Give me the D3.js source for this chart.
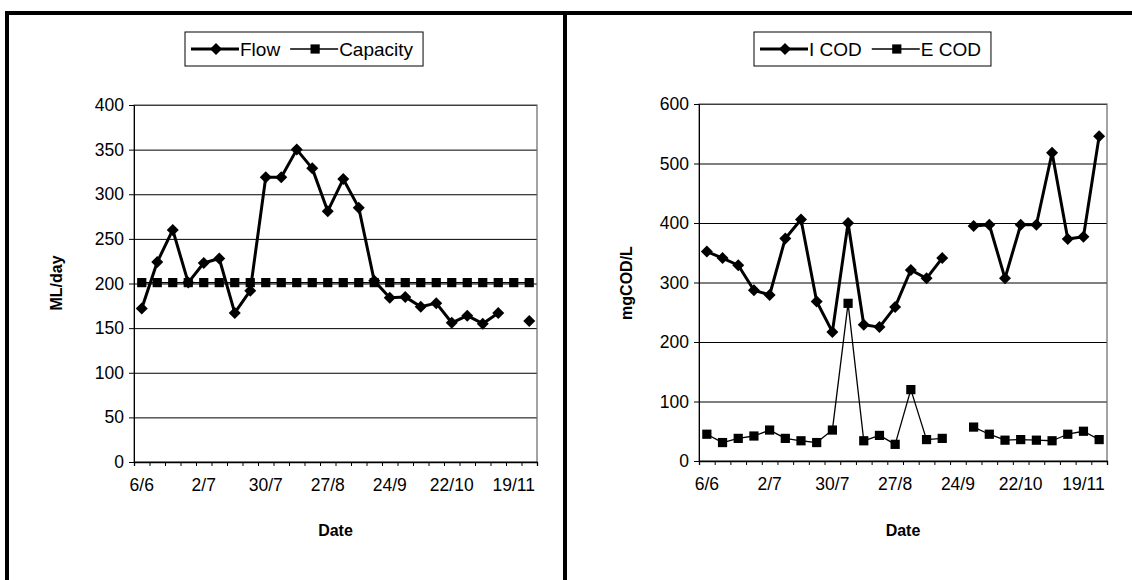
<!DOCTYPE html>
<html>
<head>
<meta charset="utf-8">
<script src="https://cdn.jsdelivr.net/npm/d3@7"></script>
<style>
  body { margin: 0; background: #fff; }
  svg { display: block; font-family: "Liberation Sans", Arial, sans-serif; }
  .tick text { font-family: "Liberation Sans", Arial, sans-serif; font-size: 17.5px; fill: #000; }
  .axis-title { font-size: 16px; font-weight: bold; }
  .legend text { font-size: 19px; }
</style>
</head>
<body>
<div id="chart"></div>
<script>
// weekly sampling dates (category axis, every 4th one labelled)
const dates = ['6/6','13/6','20/6','26/6','2/7','9/7','16/7','23/7','30/7','6/8','13/8','20/8',
  '27/8','3/9','10/9','17/9','24/9','1/10','8/10','15/10','22/10','29/10','5/11','12/11','19/11','26/11'];

// left panel: plant flow vs capacity (ML/day)
const flow = [172,224,260,201,223,228,167,192,319,319,350,329,281,317,285,203,
  184,185,174,178,156,164,155,167,null,158];
const capacity = [201,201,201,201,201,201,201,201,201,201,201,201,201,201,201,201,
  201,201,201,201,201,201,201,201,201,201];
const flowTicks = [0,50,100,150,200,250,300,350,400];

// right panel: influent / effluent COD (mgCOD/L)
const iCod = [352,341,329,287,279,374,406,268,217,400,229,225,259,321,307,341,
  null,395,397,307,397,397,518,373,377,546];
const eCod = [45,31,38,42,52,38,34,31,52,265,34,43,28,120,36,38,
  null,57,45,35,36,35,34,45,50,36];
const codTicks = [0,100,200,300,400,500,600];

const W = 1132, H = 580;

const svg = d3.select('#chart').append('svg')
  .attr('width', W)
  .attr('height', H);

// panel frames (thick scanned borders)
svg.append('path')
  .attr('d', 'M7,580 V13 H1132 M565,13 V580')
  .attr('fill', 'none')
  .attr('stroke', '#000')
  .attr('stroke-width', 4);

const diamond = d3.symbol().type(d3.symbolSquare).size(72);
const square = d3.symbol().type(d3.symbolSquare).size(85);

const drawPanel = (opt) => {

  const g = svg.append('g');
  const {x0, x1, y0, y1} = opt;

  let x = d3.scaleBand()
    .domain(dates)
    .range([x0, x1]);

  let xi = d3.scaleLinear()
    .domain([0, dates.length])
    .range([x0, x1]);

  let y = d3.scaleLinear()
    .domain([0, d3.max(opt.ticks)])
    .range([y1, y0]);

  // gridlines
  g.append('g')
    .attr('transform', `translate(${x0},0)`)
    .call(d3.axisLeft(y).tickValues(opt.ticks).tickSize(-(x1 - x0)).tickFormat(''))
    .call(a => a.select('.domain').remove())
    .selectAll('line')
    .attr('stroke', '#000')
    .attr('stroke-width', 1);

  // plot area border
  g.append('rect')
    .attr('x', x0).attr('y', y0)
    .attr('width', x1 - x0).attr('height', y1 - y0)
    .attr('fill', 'none')
    .attr('stroke', '#666')
    .attr('stroke-width', 1.2);

  // y axis
  g.append('g')
    .attr('transform', `translate(${x0},0)`)
    .call(d3.axisLeft(y).tickValues(opt.ticks).tickSize(5).tickPadding(5))
    .call(a => a.select('.domain').attr('stroke', '#000'))
    .selectAll('line').attr('stroke', '#000');

  // x axis tick marks between categories
  g.append('g')
    .attr('transform', `translate(0,${y1})`)
    .call(d3.axisBottom(xi).tickValues(d3.range(dates.length + 1)).tickSize(4).tickFormat(''))
    .call(a => a.select('.domain').attr('stroke', '#000').attr('stroke-width', 1.3))
    .selectAll('line').attr('stroke', '#000');

  // x labels every 4th category
  g.append('g')
    .attr('transform', `translate(0,${y1})`)
    .call(d3.axisBottom(x).tickValues(dates.filter((d, i) => i % 4 === 0)).tickSize(0).tickPadding(17))
    .call(a => a.select('.domain').remove());

  // axis titles
  g.append('text')
    .attr('class', 'axis-title')
    .attr('transform', `translate(${opt.titleX},283) rotate(-90)`)
    .attr('text-anchor', 'middle')
    .attr('dominant-baseline', 'middle')
    .text(opt.yTitle);

  g.append('text')
    .attr('class', 'axis-title')
    .attr('x', (x0 + x1) / 2)
    .attr('y', 536)
    .attr('text-anchor', 'middle')
    .text('Date');

  const cx = (d, i) => x(dates[i]) + x.bandwidth() / 2;

  opt.series.forEach(s => {
    let line = d3.line()
      .defined(d => d !== null)
      .x(cx)
      .y(d => y(d));

    g.append('path')
      .datum(s.values)
      .attr('d', line)
      .attr('fill', 'none')
      .attr('stroke', '#000')
      .attr('stroke-width', s.width)
      .attr('stroke-linejoin', 'round');

    g.append('g')
      .selectAll('path')
      .data(s.values.map((v, i) => ({v, i})).filter(d => d.v !== null))
      .enter()
      .append('path')
      .attr('d', s.marker === 'diamond' ? diamond : square)
      .attr('transform', d => `translate(${cx(d.v, d.i)},${y(d.v)})` + (s.marker === 'diamond' ? ' rotate(45)' : ''))
      .attr('fill', '#000');
  });

  // legend
  const lg = g.append('g').attr('class', 'legend');
  const box = lg.append('rect')
    .attr('x', opt.legend.x).attr('y', 32)
    .attr('height', 34)
    .attr('fill', '#fff')
    .attr('stroke', '#000')
    .attr('stroke-width', 1);

  let lx = opt.legend.x + 6;
  opt.series.forEach(s => {
    lg.append('line')
      .attr('x1', lx).attr('x2', lx + 48)
      .attr('y1', 49).attr('y2', 49)
      .attr('stroke', '#000')
      .attr('stroke-width', s.width);
    lg.append('path')
      .attr('d', s.marker === 'diamond' ? diamond : square)
      .attr('transform', `translate(${lx + 25},49)` + (s.marker === 'diamond' ? ' rotate(45)' : ''));
    const t = lg.append('text')
      .attr('x', lx + 49)
      .attr('y', 56)
      .text(s.name);
    lx += 49 + t.node().getComputedTextLength() + 10;
  });
  box.attr('width', lx - opt.legend.x);
};

drawPanel({
  x0: 134, x1: 537, y0: 105, y1: 462,
  ticks: flowTicks,
  yTitle: 'ML/day', titleX: 58,
  legend: {x: 185},
  series: [
    {name: 'Flow', values: flow, marker: 'diamond', width: 3},
    {name: 'Capacity', values: capacity, marker: 'square', width: 1.3}
  ]
});

drawPanel({
  x0: 699, x1: 1107, y0: 104, y1: 461,
  ticks: codTicks,
  yTitle: 'mgCOD/L', titleX: 628,
  legend: {x: 754},
  series: [
    {name: 'I COD', values: iCod, marker: 'diamond', width: 3},
    {name: 'E COD', values: eCod, marker: 'square', width: 1.3}
  ]
});
</script>
</body>
</html>
